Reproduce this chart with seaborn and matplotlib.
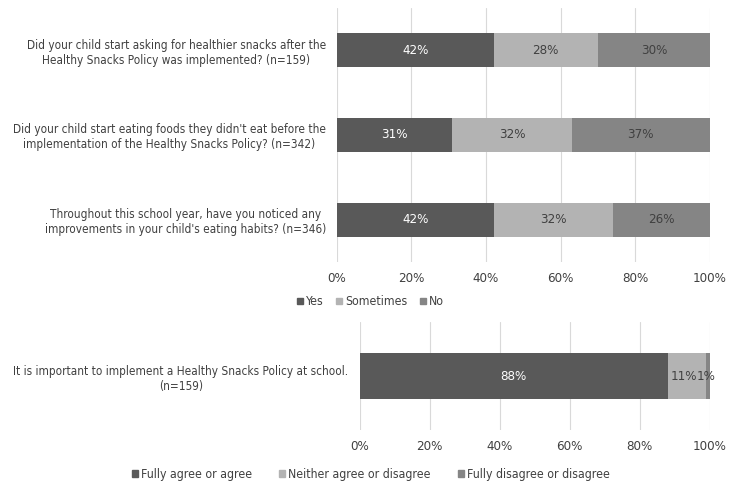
import numpy as np
import pandas as pd
import matplotlib
matplotlib.use("Agg")
import matplotlib.pyplot as plt
import seaborn as sns
from matplotlib.patches import Patch

# survey data (percent)
questions = [
    "Did your child start asking for healthier snacks after the\nHealthy Snacks Policy was implemented? (n=159)",
    "Did your child start eating foods they didn't eat before the\nimplementation of the Healthy Snacks Policy? (n=342)",
    "Throughout this school year, have you noticed any\nimprovements in your child's eating habits? (n=346)",
]
yes = [42, 31, 42]
sometimes = [28, 32, 32]
no = [30, 37, 26]

statement = ["It is important to implement a Healthy Snacks Policy at school.\n(n=159)"]
agree = [88]
neither = [11]
disagree = [1]

top_labels = ["Yes", "Sometimes", "No"]
bottom_labels = ["Fully agree or agree", "Neither agree or disagree", "Fully disagree or disagree"]
colors = ["#595959", "#b3b3b3", "#858585"]
text_colors = ["white", "#404040", "#404040"]
grid_c = "#d9d9d9"
lab_c = "#404040"

sns.set_style("white")
plt.rcParams["font.family"] = ["DejaVu Sans Condensed", "DejaVu Sans"]
plt.rcParams["font.stretch"] = "condensed"

fig = plt.figure(figsize=(7.34, 4.9), dpi=100)
ax1 = fig.add_axes([0.459, 0.465, 0.508, 0.519])
ax2 = fig.add_axes([0.490, 0.122, 0.477, 0.221])


def stacked(ax, cats, series, width):
    df = pd.DataFrame({"cat": cats})
    cum = np.zeros(len(cats))
    cums = []
    for s in series:
        cum = cum + np.array(s)
        cums.append(cum.copy())
    # draw from total backwards so the earlier segments sit on top
    for i in range(len(series) - 1, -1, -1):
        df["v"] = cums[i]
        sns.barplot(data=df, x="v", y="cat", orient="h", color=colors[i],
                    width=width, saturation=1, ax=ax, linewidth=0)
    for i, s in enumerate(series):
        for j, v in enumerate(s):
            ax.text(cums[i][j] - v / 2, j, f"{v}%", ha="center", va="center",
                    color=text_colors[i], fontsize=9.5)
    ax.set_xlim(0, 100)
    ax.set_ylim(len(cats) - 0.5, -0.5)
    ax.set_xticks(range(0, 101, 20))
    ax.set_xticklabels([f"{t}%" for t in range(0, 101, 20)], color=lab_c, fontsize=9.5)
    ax.set_xlabel("")
    ax.set_ylabel("")
    ax.tick_params(axis="x", length=0, pad=7)
    ax.tick_params(axis="y", length=0, pad=8)
    for lab in ax.get_yticklabels():
        lab.set_color(lab_c)
        lab.set_fontsize(8.5)
        lab.set_multialignment("center")
    ax.xaxis.grid(True, color=grid_c, linewidth=0.8)
    ax.set_axisbelow(True)
    for sp in ax.spines.values():
        sp.set_visible(False)
    return cums


stacked(ax1, questions, [yes, sometimes, no], 0.4)
stacked(ax2, statement, [agree, neither, disagree], 0.42)

# the two small labels on the bottom bar are pushed together, as in the original
for t in ax2.texts:
    if t.get_text() == f"{neither[0]}%":
        t.set_position((96.3, 0))
        t.set_ha("right")
    if t.get_text() == f"{disagree[0]}%":
        t.set_position((96.3, 0))
        t.set_ha("left")

h1 = [Patch(color=c) for c in colors]
fig.legend(h1, top_labels, loc="center", bbox_to_anchor=(0.505, 0.384), ncol=3,
           frameon=False, fontsize=8.8, handlelength=0.5, handleheight=0.5,
           handletextpad=0.25, columnspacing=1.0, labelcolor=lab_c)
fig.legend(h1, bottom_labels, loc="center", bbox_to_anchor=(0.505, 0.031), ncol=3,
           frameon=False, fontsize=8.8, handlelength=0.5, handleheight=0.5,
           handletextpad=0.25, columnspacing=2.2, labelcolor=lab_c)

fig.savefig("out.png", dpi=100)
